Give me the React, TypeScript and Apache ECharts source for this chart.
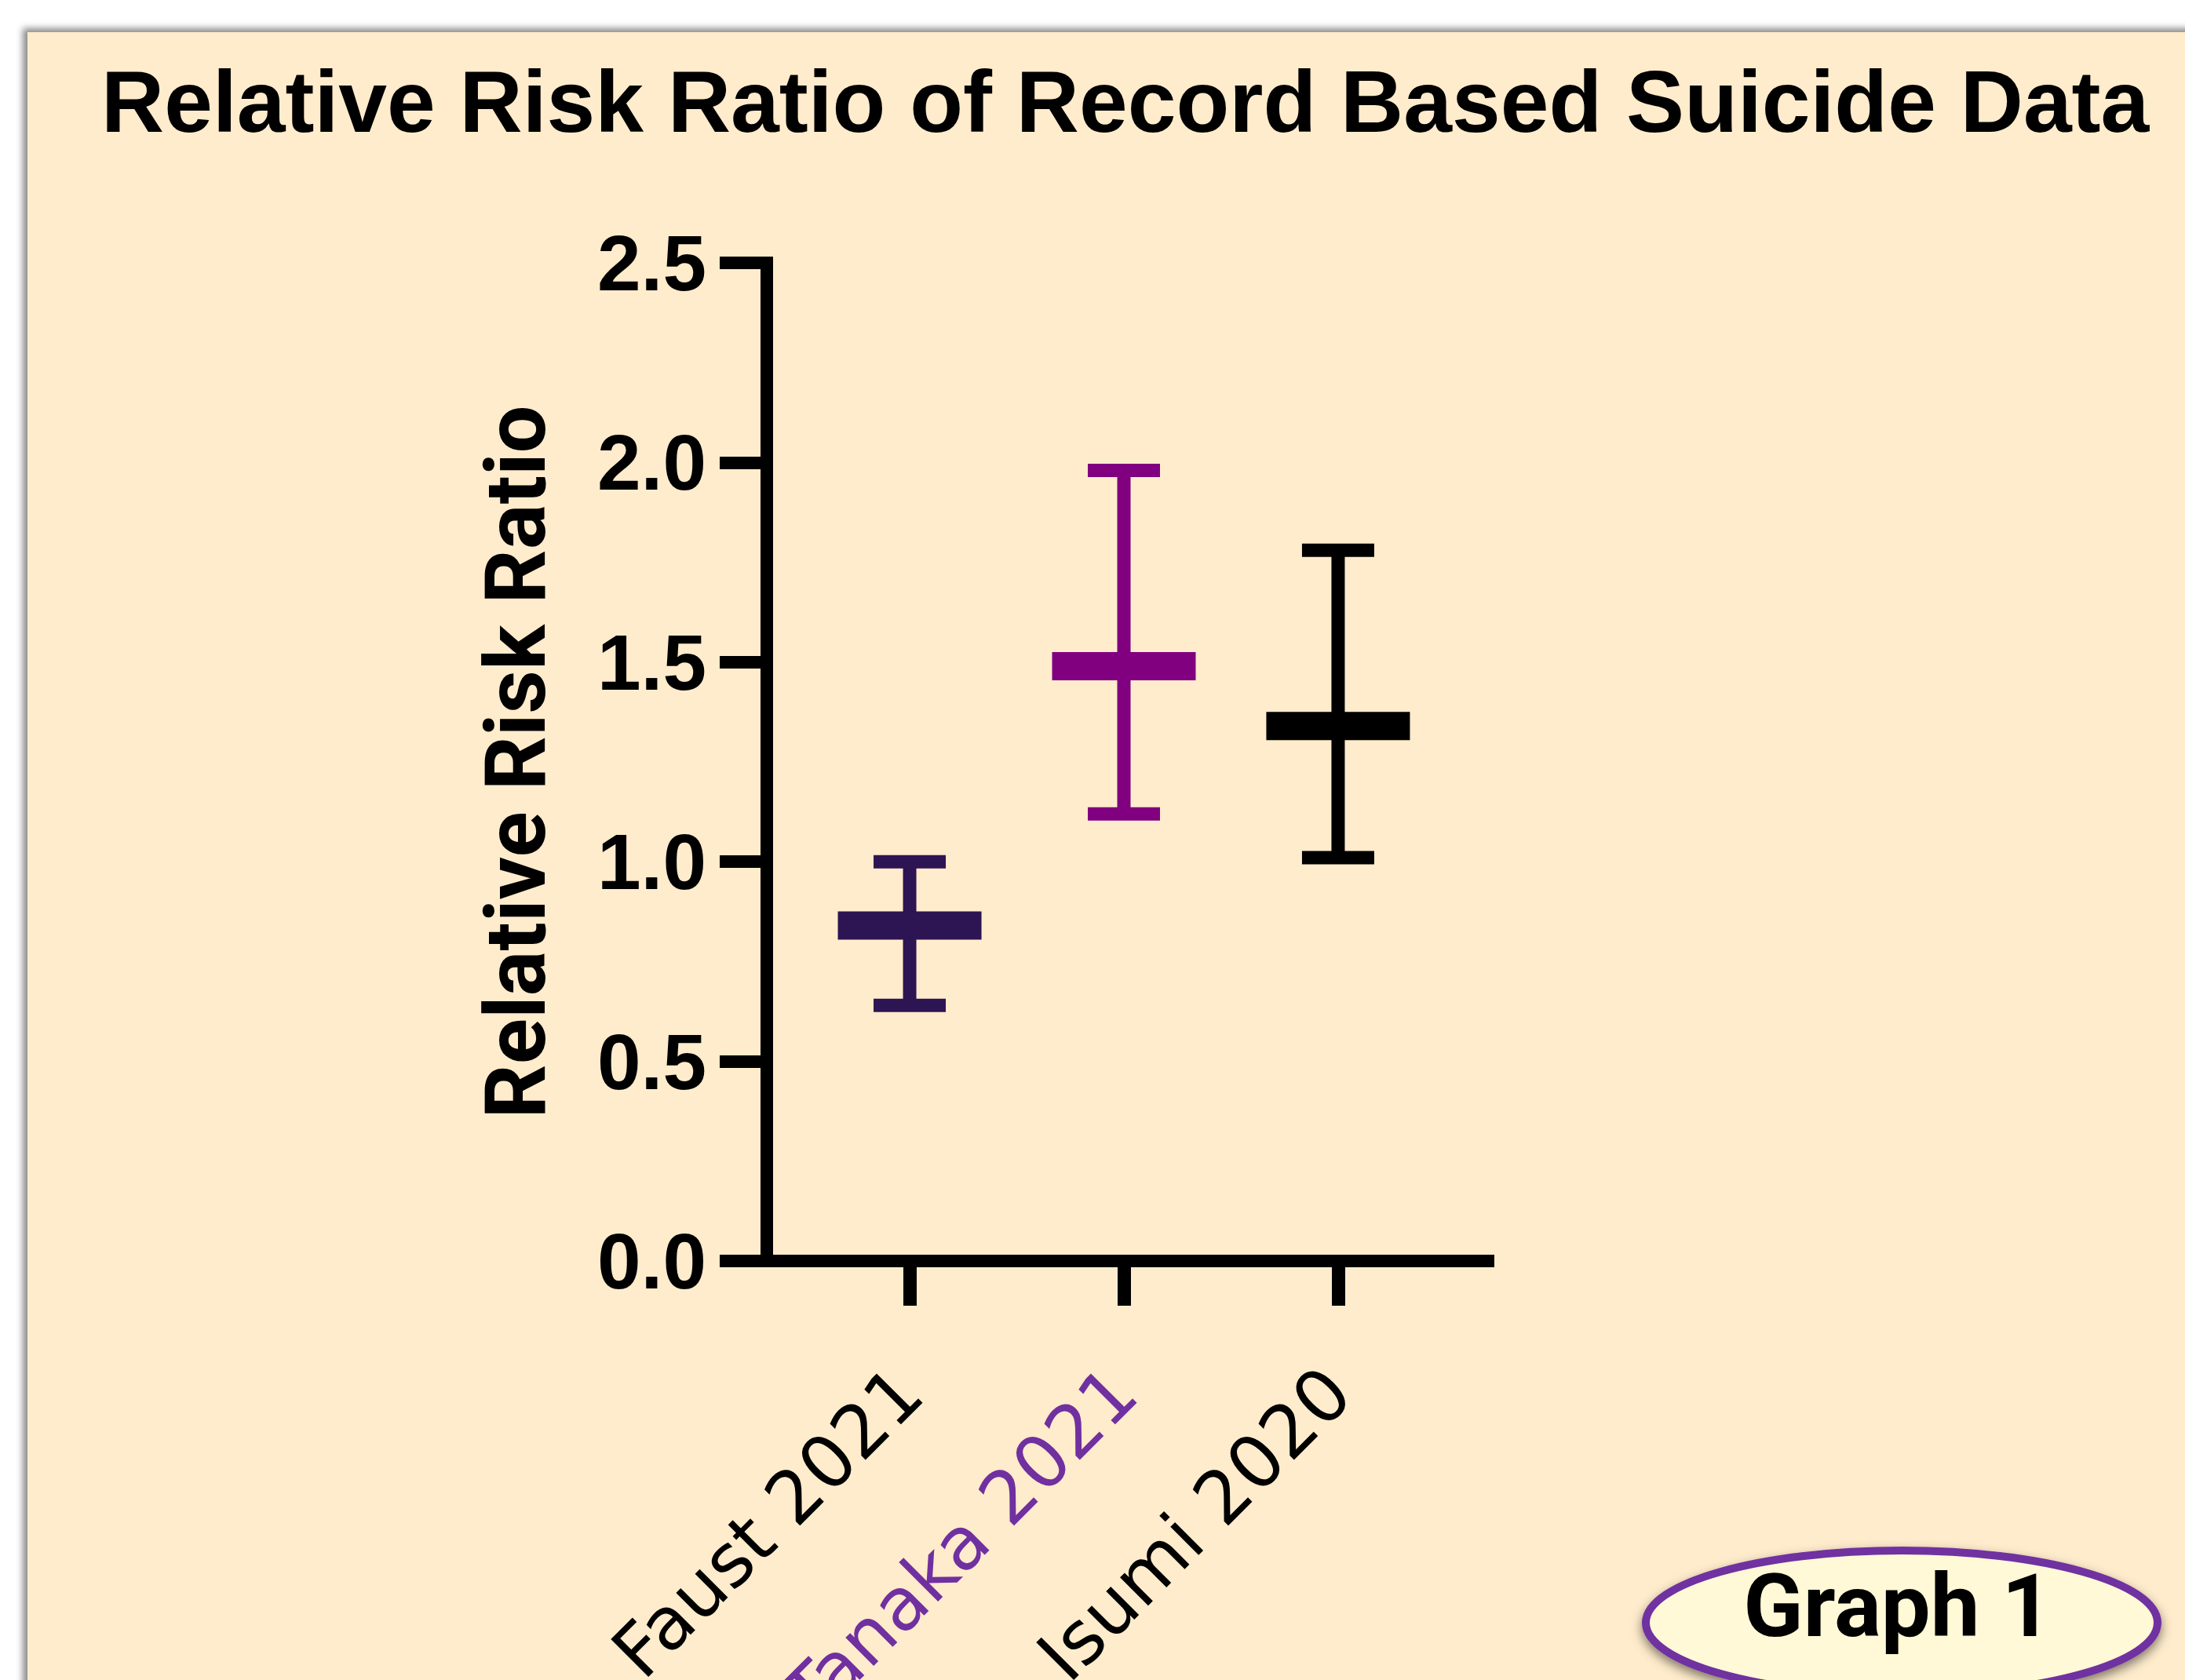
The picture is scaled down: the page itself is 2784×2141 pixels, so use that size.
import React, { useEffect, useRef } from 'react';
import * as echarts from 'echarts';

// ---- data ----
const studies = ['Faust 2021', 'Tanaka 2021', 'Isumi 2020'];
const riskRatio = [0.84, 1.49, 1.34];
const ciLower = [0.64, 1.12, 1.01];
const ciUpper = [1.0, 1.98, 1.78];
const markColors = ['#2D1452', '#800080', '#000000'];
const labelColors = ['#000000', '#7030A0', '#000000'];
const studyIndex = [0, 1, 2];

const renderItem = (params: any, api: any) => {
  const i = params.dataIndex;
  const xi = api.value(0);
  const mid = api.coord([xi, api.value(1)]);
  const lo = api.coord([xi, api.value(2)]);
  const hi = api.coord([xi, api.value(3)]);
  const color = markColors[i];
  const stemW = 17;
  const capW = 92;
  const capH = 17;
  const barW = 183;
  const barH = 36;
  return {
    type: 'group',
    children: [
      { type: 'rect', shape: { x: mid[0] - stemW / 2, y: hi[1], width: stemW, height: lo[1] - hi[1] }, style: { fill: color } },
      { type: 'rect', shape: { x: hi[0] - capW / 2, y: hi[1] - capH / 2, width: capW, height: capH }, style: { fill: color } },
      { type: 'rect', shape: { x: lo[0] - capW / 2, y: lo[1] - capH / 2, width: capW, height: capH }, style: { fill: color } },
      { type: 'rect', shape: { x: mid[0] - barW / 2, y: mid[1] - barH / 2, width: barW, height: barH }, style: { fill: color } },
    ],
  };
};

export default function App() {
  const ref = useRef<HTMLDivElement>(null);
  useEffect(() => {
    if (!ref.current) return;
    const chart = echarts.init(ref.current, undefined, { renderer: 'svg' });
    const rich: any = {};
    studyIndex.forEach((i) => {
      rich['c' + i] = {
        color: labelColors[i],
        fontFamily: 'DejaVu Sans',
        fontSize: 93,
      };
    });
    const option: any = {
      animation: false,
      backgroundColor: '#ffffff',
      title: {
        text: 'Relative Risk Ratio of Record Based Suicide Data',
        left: 129,
        top: 74,
        padding: 0,
        textStyle: { fontFamily: 'Liberation Sans', fontWeight: 'bold', fontSize: 111, color: '#000000' },
      },
      grid: { left: 977, right: 888, top: 335, bottom: 534, containLabel: false, outerBoundsMode: 'none' },
      xAxis: {
        type: 'value',
        min: -0.667,
        max: 2.7,
        axisLine: { show: true, onZero: false, lineStyle: { color: '#000000', width: 16, cap: 'square' } },
        axisTick: { show: true, length: 57, customValues: studyIndex, lineStyle: { color: '#000000', width: 17 } },
        axisLabel: {
          customValues: studyIndex,
          rotate: 45,
          margin: 152,
          hideOverlap: false,
          formatter: (v: number) => `{c${v}|${studies[v]}}`,
          rich,
        },
        splitLine: { show: false },
      },
      yAxis: {
        type: 'value',
        min: 0,
        max: 2.5,
        interval: 0.5,
        name: 'Relative Risk Ratio',
        nameLocation: 'middle',
        nameGap: 266,
        nameTextStyle: { fontFamily: 'Roboto', fontWeight: 'bold', fontSize: 108, color: '#000000' },
        axisLine: { show: true, onZero: false, lineStyle: { color: '#000000', width: 16, cap: 'square' } },
        axisTick: { show: true, length: 60, lineStyle: { color: '#000000', width: 16 } },
        axisLabel: {
          margin: 77,
          formatter: (v: number) => v.toFixed(1),
          fontFamily: 'Liberation Sans',
          fontWeight: 'bold',
          fontSize: 100,
          color: '#000000',
        },
        splitLine: { show: false },
      },
      series: [
        {
          type: 'custom',
          renderItem,
          clip: false,
          encode: { x: 0, y: [1, 2, 3] },
          data: studyIndex.map((i) => [i, riskRatio[i], ciLower[i], ciUpper[i]]),
        },
      ],
      graphic: [
        {
          type: 'rect',
          z: -10,
          silent: true,
          shape: { x: 35, y: 41, width: 2800, height: 2150 },
          style: { fill: '#FFECCC', shadowBlur: 8, shadowOffsetX: -6, shadowOffsetY: -5, shadowColor: 'rgba(0,0,0,0.45)' },
        },
        {
          type: 'ellipse',
          silent: true,
          shape: { cx: 2423, cy: 2068, rx: 326, ry: 92 },
          style: {
            fill: '#FFF9D7',
            stroke: '#7030A0',
            lineWidth: 10,
            shadowBlur: 14,
            shadowOffsetY: 6,
            shadowColor: 'rgba(0,0,0,0.5)',
          },
        },
        {
          type: 'text',
          silent: true,
          x: 2418,
          y: 2046,
          style: {
            text: 'Graph 1',
            fontFamily: 'Roboto',
            fontWeight: 'bold',
            fontSize: 112,
            fill: '#000000',
            align: 'center',
            verticalAlign: 'middle',
          },
        },
      ],
    };
    chart.setOption(option);
    return () => chart.dispose();
  }, []);
  return (
    <div
      ref={ref}
      style={{ position: 'absolute', left: 0, top: 0, width: 2784, height: 2141 }}
    />
  );
}
